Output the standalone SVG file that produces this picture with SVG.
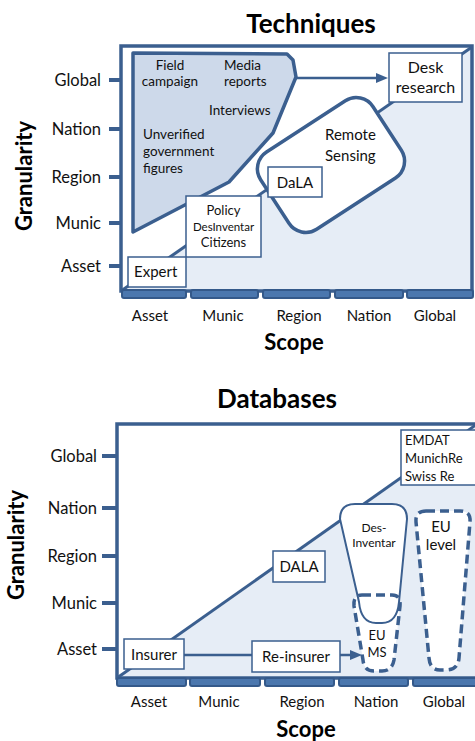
<svg xmlns="http://www.w3.org/2000/svg" width="475" height="741" viewBox="0 0 475 741">
<defs>
<style>
.t{font-family:Lato,"Liberation Sans",sans-serif;fill:#111}
.title{font-family:Lato,"Liberation Sans",sans-serif;font-weight:bold;font-size:26px;fill:#000;text-anchor:middle}
.axt{font-family:Lato,"Liberation Sans",sans-serif;font-weight:bold;font-size:22px;fill:#000;text-anchor:middle}
.yl{font-size:16.5px;text-anchor:end}
.xl{font-size:15px;text-anchor:middle}
.frame{fill:none;stroke:#3b5f8f;stroke-width:3.5}
.diag{fill:none;stroke:#3b5f8f;stroke-width:3}
.bg{fill:#e6edf6}
.tick{stroke:#3b5f8f;stroke-width:4}
.seg{fill:#4b77ae;stroke:#34598a;stroke-width:2}
.box{fill:#fff;stroke:#3b5f8f;stroke-width:1.5}
.conn{fill:none;stroke:#3b5f8f;stroke-width:2.5}
.dash{fill:none;stroke:#3b5f8f;stroke-width:3.5;stroke-dasharray:9 5}
.c{text-anchor:middle}
</style>
<marker id="ah" markerUnits="userSpaceOnUse" markerWidth="12" markerHeight="12" viewBox="0 0 12 12" refX="1" refY="6" orient="auto">
<path d="M0,1 L12,6 L0,11 z" fill="#3b5f8f"/>
</marker>
</defs>
<rect width="475" height="741" fill="#fff"/>

<!-- ===== Techniques chart ===== -->
<g id="chart1-axes">
<text class="title" x="311" y="33">Techniques</text>
<rect x="121" y="46" width="351" height="245" fill="#fff"/>
<polygon class="bg" points="121,291 472,47 472,291"/>
<line class="diag" x1="121" y1="291" x2="472" y2="47"/>
<rect class="frame" x="121" y="46" width="351" height="245"/>
<g>
<line class="tick" x1="109" y1="80" x2="121" y2="80"/>
<line class="tick" x1="109" y1="129" x2="121" y2="129"/>
<line class="tick" x1="109" y1="177" x2="121" y2="177"/>
<line class="tick" x1="109" y1="223" x2="121" y2="223"/>
<line class="tick" x1="109" y1="266" x2="121" y2="266"/>
</g>
<g class="t yl">
<text x="101" y="86">Global</text>
<text x="101" y="135">Nation</text>
<text x="101" y="183">Region</text>
<text x="101" y="229">Munic</text>
<text x="101" y="272">Asset</text>
</g>
<g>
<rect class="seg" x="122" y="290" width="64" height="8" rx="2"/>
<rect class="seg" x="191" y="290" width="67" height="8" rx="2"/>
<rect class="seg" x="263" y="290" width="67" height="8" rx="2"/>
<rect class="seg" x="335" y="290" width="68" height="8" rx="2"/>
<rect class="seg" x="407" y="290" width="66" height="8" rx="2"/>
</g>
<g class="t xl">
<text x="150" y="321">Asset</text>
<text x="223" y="321">Munic</text>
<text x="299" y="321">Region</text>
<text x="369" y="321">Nation</text>
<text x="435" y="321">Global</text>
</g>
<text class="axt" x="294" y="350">Scope</text>
<text class="axt" transform="translate(32,176) rotate(-90)">Granularity</text>
</g>

<g id="chart1-connectors">
<line class="conn" x1="296" y1="78" x2="377" y2="78" marker-end="url(#ah)"/>
</g>

<g id="node-qualitative">
<path d="M133,53 L287,54 L293,60 L296,77 L273,133 L229,182 L133,232 Z" fill="#cdd9ea" stroke="#3b5f8f" stroke-width="3.5" stroke-linejoin="round"/>
<g class="t" font-size="13.5">
<text class="c" x="170" y="70">Field</text>
<text class="c" x="170" y="86">campaign</text>
<text x="224" y="70">Media</text>
<text x="224" y="86">reports</text>
<text x="209" y="115">Interviews</text>
<text x="143" y="139">Unverified</text>
<text x="143" y="156">government</text>
<text x="143" y="173">figures</text>
</g>
</g>

<g id="node-desk-research">
<rect class="box" x="389" y="53" width="73" height="49"/>
<text class="t c" x="425.5" y="73" font-size="16">Desk</text>
<text class="t c" x="425.5" y="93" font-size="16">research</text>
</g>

<g id="node-remote-sensing">
<rect x="-67" y="-46" width="134" height="92" rx="20" transform="translate(331,165) rotate(-33)" fill="#fff" stroke="#3b5f8f" stroke-width="3.5"/>
<text class="t" x="325" y="140" font-size="15">Remote</text>
<text class="t" x="325" y="161" font-size="15">Sensing</text>
</g>

<g id="node-dala1">
<rect class="box" x="268" y="167" width="54" height="30"/>
<text class="t c" x="295" y="188" font-size="15">DaLA</text>
</g>

<g id="node-policy">
<rect class="box" x="186" y="196" width="75" height="61"/>
<text class="t c" x="223.5" y="215" font-size="13">Policy</text>
<text class="t c" x="223.5" y="231" font-size="11.5">DesInventar</text>
<text class="t c" x="223.5" y="247" font-size="13">Citizens</text>
</g>

<g id="node-expert">
<rect class="box" x="128" y="257" width="58" height="30"/>
<text class="t" x="134" y="277" font-size="15">Expert</text>
</g>

<!-- ===== Databases chart ===== -->
<g id="chart2-axes">
<text class="title" x="277" y="408">Databases</text>
<rect x="117" y="424" width="362" height="254" fill="#fff"/>
<polygon class="bg" points="117,678 480,422 480,678"/>
<line class="diag" x1="117" y1="678" x2="480" y2="422"/>
<rect class="frame" x="117" y="424" width="362" height="254"/>
<g>
<line class="tick" x1="102" y1="456" x2="117" y2="456"/>
<line class="tick" x1="102" y1="508" x2="117" y2="508"/>
<line class="tick" x1="102" y1="556" x2="117" y2="556"/>
<line class="tick" x1="102" y1="603" x2="117" y2="603"/>
<line class="tick" x1="102" y1="649" x2="117" y2="649"/>
</g>
<g class="t yl">
<text x="97" y="462">Global</text>
<text x="97" y="514">Nation</text>
<text x="97" y="562">Region</text>
<text x="97" y="609">Munic</text>
<text x="97" y="655">Asset</text>
</g>
<g>
<rect class="seg" x="117" y="678" width="69" height="8" rx="2"/>
<rect class="seg" x="190" y="678" width="70" height="8" rx="2"/>
<rect class="seg" x="265" y="678" width="69" height="8" rx="2"/>
<rect class="seg" x="339" y="678" width="69" height="8" rx="2"/>
<rect class="seg" x="413" y="678" width="66" height="8" rx="2"/>
</g>
<g class="t xl">
<text x="149" y="707">Asset</text>
<text x="219" y="707">Munic</text>
<text x="302" y="707">Region</text>
<text x="376" y="707">Nation</text>
<text x="444" y="707">Global</text>
</g>
<text class="axt" x="306" y="737">Scope</text>
<text class="axt" transform="translate(24,545) rotate(-90)">Granularity</text>
</g>

<g id="node-emdat">
<rect class="box" x="401" y="430" width="80" height="55"/>
<g class="t" font-size="13">
<text x="405" y="445">EMDAT</text>
<text x="405" y="463">MunichRe</text>
<text x="405" y="481">Swiss Re</text>
</g>
</g>

<g id="node-eu-level">
<path class="dash" d="M426,511 L460,511 Q471,511 470,522 L459,658 Q458,670 446,670 L440,670 Q430,670 429,658 L416,522 Q415,511 426,511 Z" style="fill:#fff"/>
<text class="t c" x="441" y="532" font-size="15">EU</text>
<text class="t c" x="441" y="550" font-size="15">level</text>
</g>

<g id="node-eu-ms">
<path d="M362,595 L392,595 Q401,595 400,606 L394,660 Q392,671 382,671 L374,671 Q364,671 363,660 L354,606 Q353,595 362,595 Z" fill="#fff"/>
</g>

<g id="node-desinventar">
<path d="M355,504 L392,504 Q407,504 407,519 L399,602 Q397,623 382,623 L376,623 Q361,623 359,602 L340,519 Q340,504 355,504 Z" fill="#fff" stroke="#3b5f8f" stroke-width="2"/>
<text class="t c" x="374" y="532" font-size="12">Des-</text>
<text class="t c" x="374" y="547" font-size="12">Inventar</text>
</g>

<g id="node-eu-ms-outline">
<path class="dash" d="M362,595 L392,595 Q401,595 400,606 L394,660 Q392,671 382,671 L374,671 Q364,671 363,660 L354,606 Q353,595 362,595 Z"/>
<text class="t c" x="377" y="640" font-size="13">EU</text>
<text class="t c" x="377" y="657" font-size="13">MS</text>
</g>

<g id="chart2-connectors">
<line class="conn" x1="184" y1="655" x2="351" y2="655" marker-end="url(#ah)"/>
</g>

<g id="node-dala2">
<rect class="box" x="273" y="551" width="52" height="31"/>
<text class="t c" x="299" y="572" font-size="15">DALA</text>
</g>

<g id="node-insurer">
<rect class="box" x="124" y="639" width="60" height="30"/>
<text class="t c" x="154" y="660" font-size="15">Insurer</text>
</g>

<g id="node-reinsurer">
<rect class="box" x="252" y="641" width="88" height="31"/>
<text class="t c" x="296" y="662" font-size="15">Re-insurer</text>
</g>
</svg>
